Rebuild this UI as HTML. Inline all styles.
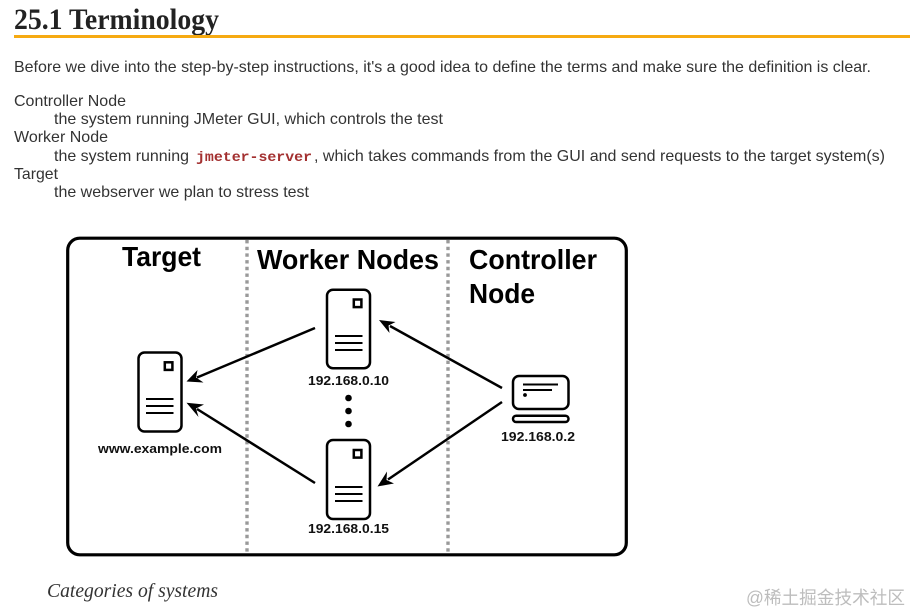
<!DOCTYPE html>
<html>
<head>
<meta charset="utf-8">
<style>
html,body{margin:0;padding:0;background:#fff;width:912px;height:615px;overflow:hidden}
svg{display:block}
.b{font-family:"Liberation Sans",sans-serif;font-size:16px;fill:#333}
.t{font-family:"Liberation Sans",sans-serif;font-weight:bold;font-size:28px;fill:#000}
.s{font-family:"Liberation Sans",sans-serif;font-weight:bold;font-size:13px;fill:#111}
.ic{fill:none;stroke:#000;stroke-width:2.5}
.ln{stroke-width:2}
.ar{stroke:#000;stroke-width:2.5;fill:none}
</style>
</head>
<body>
<svg width="912" height="615" viewBox="0 0 912 615" xmlns="http://www.w3.org/2000/svg">
<rect width="912" height="615" fill="#fff"/>
<text x="14" y="29" textLength="205" lengthAdjust="spacingAndGlyphs" style="font-family:'Liberation Serif',serif;font-weight:bold;font-size:30px;fill:#222">25.1 Terminology</text>
<rect x="14" y="35" width="896" height="3" fill="#f6aa12"/>

<text class="b" x="14" y="72" textLength="857" lengthAdjust="spacingAndGlyphs">Before we dive into the step-by-step instructions, it's a good idea to define the terms and make sure the definition is clear.</text>
<text class="b" x="14" y="106" textLength="112" lengthAdjust="spacingAndGlyphs">Controller Node</text>
<text class="b" x="54" y="124" textLength="389" lengthAdjust="spacingAndGlyphs">the system running JMeter GUI, which controls the test</text>
<text class="b" x="14" y="142" textLength="94" lengthAdjust="spacingAndGlyphs">Worker Node</text>
<text class="b" x="54" y="161" textLength="135" lengthAdjust="spacingAndGlyphs">the system running</text>
<text x="196" y="161" textLength="116" lengthAdjust="spacingAndGlyphs" style="font-family:'Liberation Mono',monospace;font-weight:bold;font-size:14px;fill:#a33030">jmeter-server</text>
<text class="b" x="314" y="161" textLength="571" lengthAdjust="spacingAndGlyphs">, which takes commands from the GUI and send requests to the target system(s)</text>
<text class="b" x="14" y="179" textLength="44" lengthAdjust="spacingAndGlyphs">Target</text>
<text class="b" x="54" y="197" textLength="255" lengthAdjust="spacingAndGlyphs">the webserver we plan to stress test</text>

<rect x="67.7" y="238.2" width="558.6" height="316.6" rx="12" ry="12" fill="#fff" stroke="#000" stroke-width="3.2"/>
<line x1="247" y1="240" x2="247" y2="553" stroke="#999" stroke-width="3.4" stroke-dasharray="3.4 3.3"/>
<line x1="448" y1="240" x2="448" y2="553" stroke="#999" stroke-width="3.4" stroke-dasharray="3.4 3.3"/>

<text class="t" x="122" y="266" textLength="79" lengthAdjust="spacingAndGlyphs">Target</text>
<text class="t" x="257" y="269" textLength="182" lengthAdjust="spacingAndGlyphs">Worker Nodes</text>
<text class="t" x="469" y="269" textLength="128" lengthAdjust="spacingAndGlyphs">Controller</text>
<text class="t" x="469" y="303" textLength="66" lengthAdjust="spacingAndGlyphs">Node</text>

<!-- target server -->
<g class="ic">
<rect x="138.5" y="352.5" width="43" height="79" rx="6"/>
<rect x="164.8" y="362.3" width="7.6" height="7.6"/>
<path class="ln" d="M146 399H173.5M146 406H173.5M146 413H173.5"/>
</g>
<!-- worker 1 -->
<g class="ic">
<rect x="327" y="289.7" width="43" height="78.6" rx="6"/>
<rect x="353.8" y="299.5" width="7.6" height="7.6"/>
<path class="ln" d="M335 336H362.5M335 343H362.5M335 350H362.5"/>
</g>
<!-- worker 2 -->
<g class="ic">
<rect x="327" y="440" width="43" height="79" rx="6"/>
<rect x="353.8" y="450" width="7.6" height="7.6"/>
<path class="ln" d="M335 487H362.5M335 494H362.5M335 501H362.5"/>
</g>
<!-- laptop -->
<g class="ic">
<rect x="513" y="376" width="55.5" height="33" rx="6"/>
<rect x="513" y="415.7" width="55.5" height="6.3" rx="3.1"/>
<path class="ln" d="M523 384.5H558M523 390H552"/>
</g>
<circle cx="525" cy="395" r="1.9" fill="#000"/>

<circle cx="348.5" cy="398" r="3.3" fill="#000"/>
<circle cx="348.5" cy="411" r="3.3" fill="#000"/>
<circle cx="348.5" cy="424" r="3.3" fill="#000"/>

<!-- arrows -->
<line class="ar" x1="315" y1="328" x2="197" y2="377.5"/>
<path d="M186.5 381.5L197.5 370L196 377.5L203.5 382.5Z" fill="#000"/>
<line class="ar" x1="315" y1="483" x2="197" y2="409"/>
<path d="M186.5 402.7L204 404.5L196 408.5L198.5 417Z" fill="#000"/>
<line class="ar" x1="502" y1="388" x2="390" y2="326"/>
<path d="M379 320L395.5 322L388.5 325.5L389.5 333Z" fill="#000"/>
<line class="ar" x1="502" y1="402" x2="388" y2="479.5"/>
<path d="M377.5 486.5L387 471.5L386.5 480L394 483.5Z" fill="#000"/>

<text class="s" x="308" y="385" textLength="81" lengthAdjust="spacingAndGlyphs">192.168.0.10</text>
<text class="s" x="98" y="453" textLength="124" lengthAdjust="spacingAndGlyphs">www.example.com</text>
<text class="s" x="501" y="441" textLength="74" lengthAdjust="spacingAndGlyphs">192.168.0.2</text>
<text class="s" x="308" y="533" textLength="81" lengthAdjust="spacingAndGlyphs">192.168.0.15</text>

<text x="47" y="597" textLength="171" lengthAdjust="spacingAndGlyphs" style="font-family:'Liberation Serif',serif;font-style:italic;font-size:20px;fill:#333">Categories of systems</text>
<text x="746" y="604" textLength="159" lengthAdjust="spacingAndGlyphs" style="font-family:'Liberation Sans','Noto Sans CJK SC',sans-serif;font-size:18px;fill:#bdbdbd">@稀土掘金技术社区</text>
</svg>
</body>
</html>
